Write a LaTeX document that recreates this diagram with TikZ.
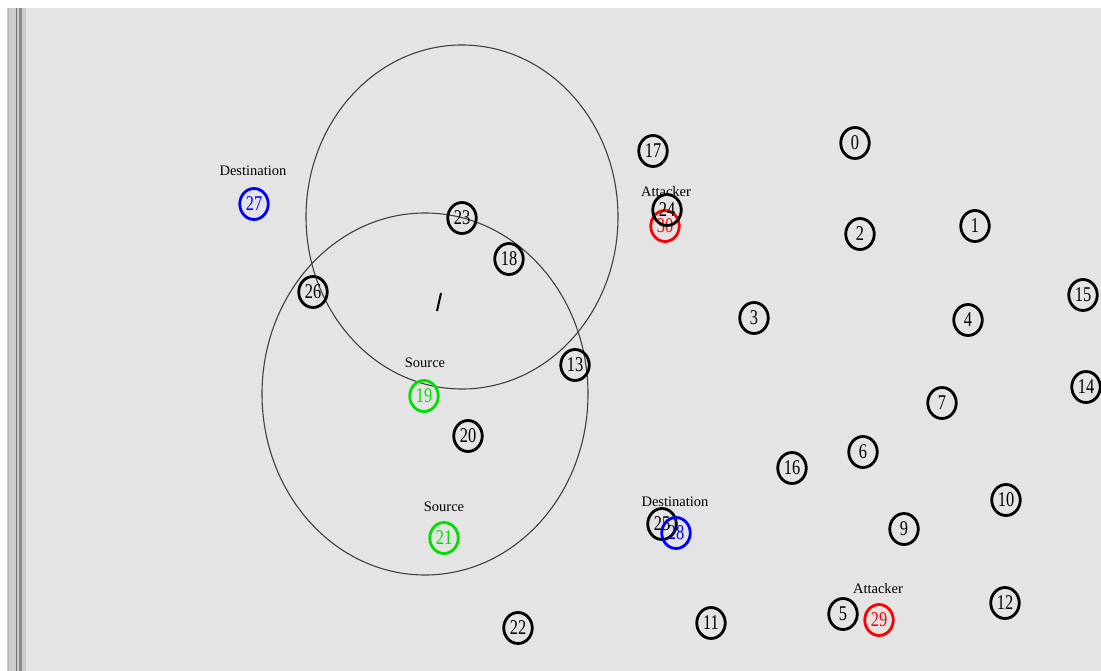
\documentclass[tikz,border=0pt]{standalone}
\usepackage{fontspec}
\usetikzlibrary{shapes.geometric}
\setmainfont{Liberation Serif}
\newfontfamily\nodefont[FakeStretch=0.78]{Liberation Serif}
\definecolor{bg}{HTML}{E4E4E4}
\definecolor{gr}{HTML}{00E000}
\begin{document}
\begin{tikzpicture}[x=1pt,y=-1pt,
  nd/.style={draw=black,line width=2.8pt,ellipse,inner sep=0pt,minimum width=28.5pt,minimum height=31pt,font=\nodefont\fontsize{21}{21}\selectfont},
  red/.style={draw=red,text=red},
  blu/.style={draw=blue,text=blue},
  grn/.style={draw=gr,text=gr},
  lbl/.style={font=\fontsize{14.5}{14.5}\selectfont,inner sep=0pt},
  rng/.style={draw=black!75,line width=1.1pt}]
\useasboundingbox (0,0) rectangle (1101,671);
\fill[white] (0,0) rectangle (1101,671);
\fill[bg] (26,8) rectangle (1101,671);
\fill[black!20] (7,8) rectangle (26,671);
\fill[black!45] (19,8) rectangle (22,671);
\fill[black!55] (16,8) rectangle (17,671);
\fill[black!30] (8,8) rectangle (9,671);
% range ellipses
\draw[rng] (462,217) ellipse [x radius=156, y radius=172];
\draw[rng] (425,394) ellipse [x radius=163, y radius=181];
% nodes
\node[nd] (n0) at (855,143) {0};
\node[nd] (n1) at (975,226) {1};
\node[nd] (n2) at (860,234) {2};
\node[nd] (n3) at (754,318) {3};
\node[nd] (n4) at (968,320) {4};
\node[nd] (n5) at (843,614) {5};
\node[nd] (n6) at (863,452) {6};
\node[nd] (n7) at (942,403) {7};
\node[nd] (n9) at (904,529) {9};
\node[nd] (n10) at (1006,500) {10};
\node[nd] (n11) at (711,623) {11};
\node[nd] (n12) at (1005,603) {12};
\node[nd] (n13) at (575,365) {13};
\node[nd] (n14) at (1086,387) {14};
\node[nd] (n15) at (1083,295) {15};
\node[nd] (n16) at (792,468) {16};
\node[nd] (n17) at (653,151) {17};
\node[nd] (n18) at (509,259) {18};
\node[nd,grn] (n19) at (424,396) {19};
\node[nd] (n20) at (468,436) {20};
\node[nd,grn] (n21) at (444,538) {21};
\node[nd] (n22) at (518,628) {22};
\node[nd] (n23) at (462,218) {23};
\node[nd,red] (n30) at (665,226) {30};
\node[nd] (n24) at (667,210) {24};
\node[nd] (n25) at (662,524) {25};
\node[nd,blu] (n28) at (676,533) {28};
\node[nd] (n26) at (313,292) {26};
\node[nd,blu] (n27) at (254,204) {27};
\node[nd,red] (n29) at (879,620) {29};
% labels
\node[lbl] (l27) at (253,171) {Destination};
\node[lbl] (l24) at (666,192) {Attacker};
\node[lbl] (l19) at (425,363) {Source};
\node[lbl] (l21) at (444,507) {Source};
\node[lbl] (l28) at (675,502) {Destination};
\node[lbl] (l29) at (878,589) {Attacker};
% cursor mark
\coordinate (c1) at (441,293);
\coordinate (c2) at (437,311);
\draw[line width=2pt] (c1) -- (c2);
\end{tikzpicture}
\end{document}
